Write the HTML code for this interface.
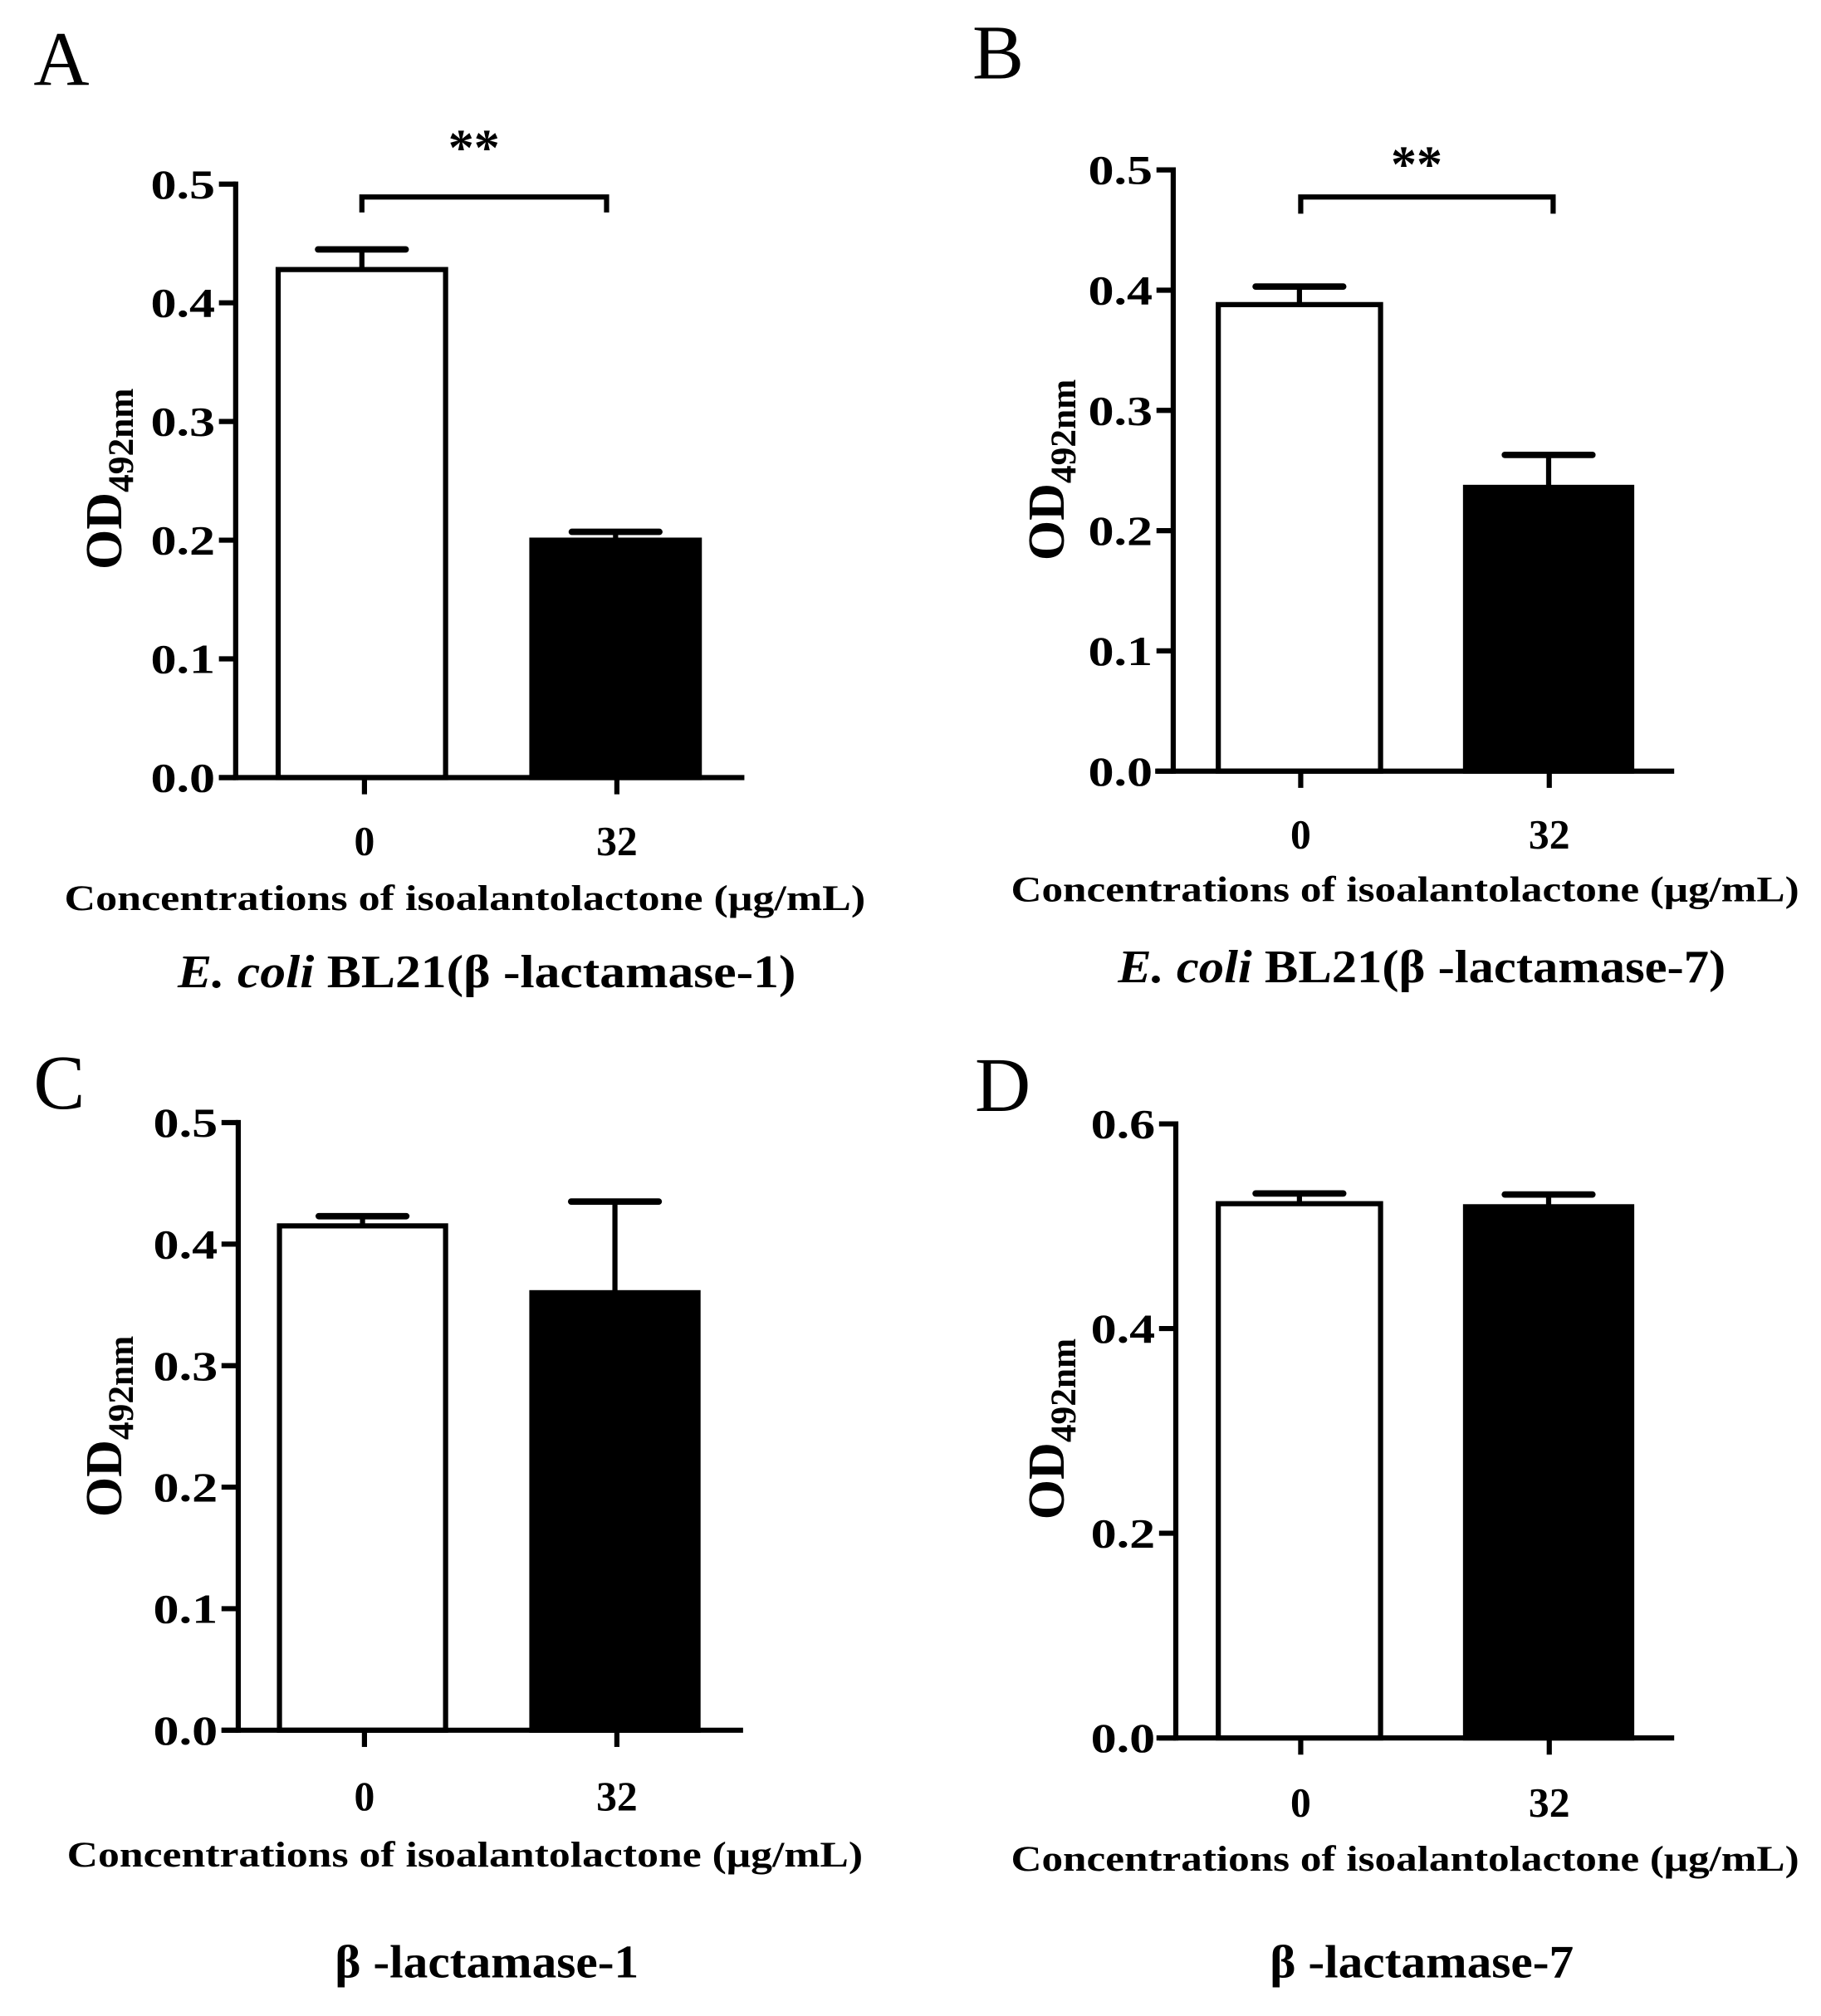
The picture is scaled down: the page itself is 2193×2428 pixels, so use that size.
<!DOCTYPE html>
<html><head><meta charset="utf-8"><style>
html,body{margin:0;padding:0;background:#fff}
svg{display:block}
text{font-family:"Liberation Serif",serif;fill:#000}
</style></head><body>
<svg id="fig" width="2193" height="2428" viewBox="0 0 1414 1566" preserveAspectRatio="none" xmlns="http://www.w3.org/2000/svg"></svg>
<script>
const categories = ["0", "32"];
const valuesA = [0.428, 0.200]; const errA = [0.017, 0.007];
const valuesB = [0.388, 0.236]; const errB = [0.015, 0.027];
const valuesC = [0.415, 0.360]; const errC = [0.008, 0.075];
const valuesD = [0.522, 0.519]; const errD = [0.010, 0.012];
const ticksA = ["0.0","0.1","0.2","0.3","0.4","0.5"];
const ticksD = ["0.0","0.2","0.4","0.6"];

const NS = "http://www.w3.org/2000/svg";
const svg = document.getElementById('fig');
function el(tag, attrs, parent){const e=document.createElementNS(NS,tag);for(const k in attrs)e.setAttribute(k,attrs[k]);(parent||svg).appendChild(e);return e;}

const panels = [
 {id:'a',letter:'A',lx:26,ly:66,ax:183,y0:604,ytop:143,ymax:0.5,ticks:ticksA,xl:170,xr:578,bars:[[214,348],[411,545]],cx:[283,479],v:valuesA,e:errA,lab:653,tt:697,ttx:361,ttw:622,sub:755,subx:378,subw:480,sig:[281,471,153,165,368,128],ytx:80,yty:372,subItalic:true,subTxt:"BL21(β -lactamase-1)"},
 {id:'b',letter:'B',lx:755,ly:61,ax:911,y0:599,ytop:132,ymax:0.5,ticks:ticksA,xl:897,xr:1300,bars:[[944,1074],[1136,1269]],cx:[1010,1203],v:valuesB,e:errB,lab:648,tt:690,ttx:1091,ttw:612,sub:751,subx:1104,subw:472,sig:[1010,1206,153,166,1100,141],ytx:812,yty:365,subItalic:true,subTxt:"BL21(β -lactamase-7)"},
 {id:'c',letter:'C',lx:26,ly:861,ax:185,y0:1344,ytop:872,ymax:0.5,ticks:ticksA,xl:172,xr:577,bars:[[215,348],[411,544]],cx:[283,479],v:valuesC,e:errC,lab:1395,tt:1440,ttx:361,ttw:618,sub:1524,subx:378,subw:236,ytx:80,yty:1108,subTxt:"β -lactamase-1"},
 {id:'d',letter:'D',lx:757,ly:863,ax:913,y0:1350,ytop:873,ymax:0.6,ticks:ticksD,xl:898,xr:1300,bars:[[944,1074],[1136,1269]],cx:[1010,1203],v:valuesD,e:errD,lab:1400,tt:1443,ttx:1091,ttw:612,sub:1524,subx:1104,subw:236,ytx:812,yty:1110,subTxt:"β -lactamase-7"}
];

panels.forEach(p=>{
  const g=el('g',{});
  
  
  const y=v=>p.y0-(v/p.ymax)*(p.y0-p.ytop);
  const L=el('text',{x:p.lx,y:p.ly,'font-size':60},g);L.textContent=p.letter;
  
  
  p.v.forEach((val,i)=>{
    const [x1,x2]=p.bars[i];const top=y(val);const et=y(val+p.e[i]);const mx=(x1+x2)/2;
    el('line',{x1:mx,x2:mx,y1:top,y2:et,stroke:'#000','stroke-width':4},g);
    const cap=el('line',{x1:mx-34,x2:mx+34,y1:et,y2:et,stroke:'#000','stroke-width':5,'stroke-linecap':'round'},g);
    
    
    const r=el('rect',{x:x1+2,y:top,width:x2-x1-4,height:p.y0-top,fill:i?'#000':'#fff',stroke:'#000','stroke-width':4},g);
    
    
  });
  const ya=el('line',{x1:p.ax,x2:p.ax,y1:p.ytop-2,y2:p.y0+2,stroke:'#000','stroke-width':4},g);
  
  
  const xa=el('line',{x1:p.xl,x2:p.xr,y1:p.y0,y2:p.y0,stroke:'#000','stroke-width':4},g);
  
  
  p.ticks.forEach(t=>{
    const ty=y(parseFloat(t));
    el('line',{x1:p.ax-13,x2:p.ax,y1:ty,y2:ty,stroke:'#000','stroke-width':4},g);
    const tl=el('text',{x:p.ax-16,y:ty+11,'font-size':32,'font-weight':'bold','text-anchor':'end',textLength:50,lengthAdjust:'spacingAndGlyphs'},g);tl.textContent=t;
    
    
  });
  categories.forEach((c,i)=>{
    el('line',{x1:p.cx[i],x2:p.cx[i],y1:p.y0,y2:p.y0+13,stroke:'#000','stroke-width':4},g);
    const xl=el('text',{x:p.cx[i],y:p.lab+11,'font-size':32,'font-weight':'bold','text-anchor':'middle'},g);xl.textContent=c;
    
    
  });
  const tt=el('text',{x:p.ttx,y:p.tt+10,'font-size':28,'font-weight':'bold','text-anchor':'middle',textLength:p.ttw,lengthAdjust:'spacingAndGlyphs'},g);
  tt.textContent='Concentrations of isoalantolactone (μg/mL)';
  
  
  const st=el('text',{x:p.subx,y:p.sub+12,'font-size':36,'font-weight':'bold','text-anchor':'middle',textLength:p.subw,lengthAdjust:'spacingAndGlyphs'},g);
  if(p.subItalic){const ts=el('tspan',{'font-style':'italic'},st);ts.textContent='E. coli ';const t2=el('tspan',{},st);t2.textContent=p.subTxt;}
  else st.textContent=p.subTxt;
  
  
  const yt=el('text',{x:0,y:0,'font-size':40,'font-weight':'bold','text-anchor':'middle',transform:`translate(${p.ytx+14},${p.yty}) rotate(-90)`},g);
  const a=el('tspan',{},yt);a.textContent='OD';
  const b=el('tspan',{'font-size':28,dy:9},yt);b.textContent='492nm';
  
  
  if(p.sig){
    const [x1,x2,yb,yd,sx,sy]=p.sig;
    const br=el('path',{d:`M${x1},${yd} V${yb} H${x2} V${yd}`,fill:'none',stroke:'#000','stroke-width':4},g);
    
    
    const s=el('text',{x:sx,y:sy,'font-size':40,'font-weight':'bold','text-anchor':'middle'},g);s.textContent='**';
    
    
  }
});
</script>
</body></html>
